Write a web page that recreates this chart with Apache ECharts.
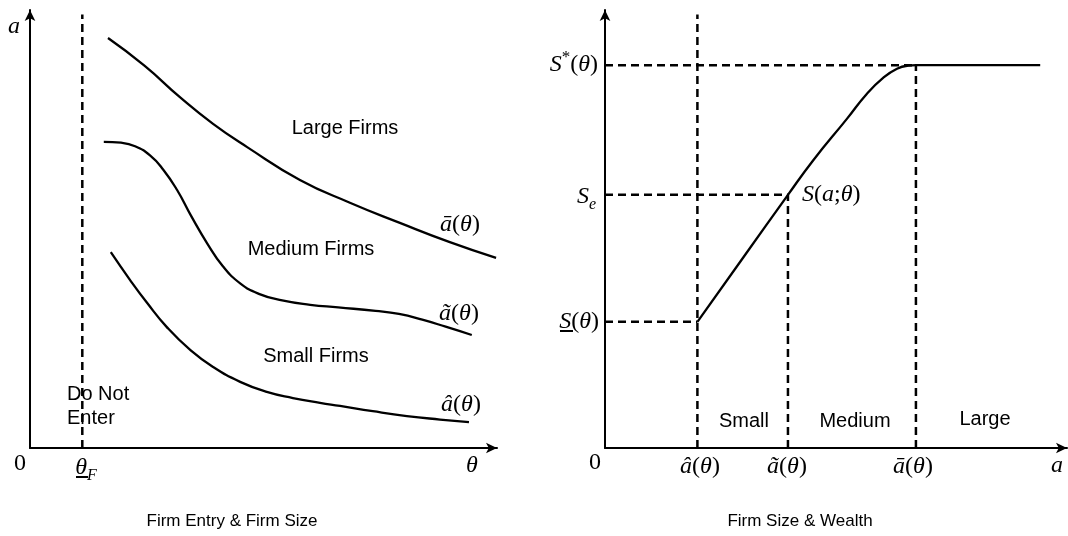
<!DOCTYPE html>
<html><head><meta charset="utf-8">
<script src="https://cdn.jsdelivr.net/npm/echarts@6/dist/echarts.min.js"></script>
<style>html,body{margin:0;padding:0;background:#fff}#c{width:1068px;height:536px}</style>
</head><body><div id="c"></div>
<script>
// ---- Left panel data (theta on x, a on y; 0..100 units) ----
const thetaF = 11.2;
const aBarCurve   = [[16.7,93.6],[24.5,87.3],[32.1,80.1],[39.2,74.0],[46.5,68.7],[57.8,61.2],[68.5,56.0],[79.2,51.4],[89.9,47.0],[99.8,43.4]];
const aTildeCurve = [[15.8,69.9],[19.5,69.7],[22.5,68.9],[25.7,66.8],[28.5,63.6],[31.5,58.9],[34.5,53.0],[37.9,46.8],[41.3,41.5],[45.0,37.6],[49.0,35.2],[54.0,33.7],[60.0,32.7],[66.0,32.1],[74.0,31.3],[79.0,30.6],[84.0,29.3],[89.0,27.7],[94.6,25.8]];
const aHatCurve   = [[17.3,44.7],[21.4,38.4],[25.1,33.1],[29.3,27.6],[34.3,22.4],[39.2,18.5],[45.0,15.1],[50.7,12.8],[56.3,11.4],[62.1,10.3],[66.4,9.6],[73.4,8.4],[80.7,7.3],[87.8,6.5],[94.0,5.9]];
// ---- Right panel data (a on x, S on y; 0..100 units) ----
const aHatR = 20.0, aTildeR = 39.6, aBarR = 67.3;
const sLow = 28.8, sE = 57.8, sStar = 87.4;
const sizeCurve = [[20.0,28.8],[30.0,43.6],[39.6,57.8],[45.0,65.6],[52.4,75.2],[56.7,80.9],[60.2,84.5],[63.2,86.6],[65.6,87.3],[67.3,87.4],[80.0,87.4],[94.2,87.4]];

const black = '#000';
function axisPair(gi){
  return {type:'value', min:0, max:100, gridIndex:gi,
    axisLine:{show:true, symbol:['none','arrow'], symbolSize:[8,11], lineStyle:{color:black, width:2}},
    axisTick:{show:false}, axisLabel:{show:false}, splitLine:{show:false}};
}
function solid(data, gi){
  return {type:'line', xAxisIndex:gi, yAxisIndex:gi, data:data, showSymbol:false, smooth:0.5,
    silent:true, clip:false, lineStyle:{color:black, width:2.3}};
}
function dashed(data, gi){
  return {type:'line', xAxisIndex:gi, yAxisIndex:gi, data:data, showSymbol:false,
    silent:true, clip:false, lineStyle:{color:black, width:2.5, type:[8,5]}};
}
const serif = 'Liberation Serif';
const sans = 'Liberation Sans';
const rich = {
  i:{fontFamily:serif, fontStyle:'italic', fontSize:24, lineHeight:32, fill:black, verticalAlign:'middle'},
  n:{fontFamily:serif, fontSize:24, lineHeight:32, fill:black, verticalAlign:'middle'},
  sub:{fontFamily:serif, fontStyle:'italic', fontSize:16, lineHeight:15, fill:black, verticalAlign:'bottom'},
  sup:{fontFamily:serif, fontSize:17, lineHeight:17, fill:black, verticalAlign:'top'}
};
function mtext(x, y, text, align){
  return {type:'text', x:x, y:y, silent:true,
    style:{text:text, rich:rich, align:align||'center', verticalAlign:'middle', textAlign:align||'center', textVerticalAlign:'middle', fill:black}};
}
function stext(x, y, text, size, align){
  return {type:'text', x:x, y:y, silent:true,
    style:{text:text, fontFamily:sans, fontSize:size, fill:black, align:align||'center', verticalAlign:'middle', textAlign:align||'center', textVerticalAlign:'middle', lineHeight:24}};
}
function hline(x1,x2,y){
  return {type:'line', silent:true, shape:{x1:x1,y1:y,x2:x2,y2:y}, style:{stroke:black, lineWidth:2}};
}

const chart = echarts.init(document.getElementById('c'), null, {renderer:'canvas'});
chart.setOption({
  animation:false,
  backgroundColor:'#fff',
  grid:[
    {left:30, top:10, width:467, height:438},
    {left:605, top:10, width:462, height:438}
  ],
  xAxis:[axisPair(0), axisPair(1)],
  yAxis:[axisPair(0), axisPair(1)],
  series:[
    dashed([[thetaF,0],[thetaF,99]],0),
    solid(aBarCurve,0),
    solid(aTildeCurve,0),
    solid(aHatCurve,0),
    dashed([[aHatR,0],[aHatR,99]],1),
    dashed([[0,sStar],[aBarR,sStar]],1),
    dashed([[0,sE],[aTildeR,sE]],1),
    dashed([[0,sLow],[aHatR,sLow]],1),
    dashed([[aTildeR,0],[aTildeR,sE]],1),
    dashed([[aBarR,0],[aBarR,sStar]],1),
    solid(sizeCurve,1)
  ],
  graphic:[
    // left panel
    mtext(14, 27, '{i|a}'),
    mtext(20, 464, '{n|0}'),
    mtext(86, 468, '{i|θ}{sub|F}'),
    hline(76, 88, 477),
    mtext(472, 466, '{i|θ}'),
    stext(345, 128, 'Large Firms', 20),
    stext(311, 249, 'Medium Firms', 20),
    stext(316, 356, 'Small Firms', 20),
    stext(67, 406, 'Do Not\nEnter', 20, 'left'),
    mtext(460, 225, '{i|ā}{n|(}{i|θ}{n|)}'),
    mtext(459, 314, '{i|ã}{n|(}{i|θ}{n|)}'),
    mtext(461, 405, '{i|â}{n|(}{i|θ}{n|)}'),
    stext(232, 521, 'Firm Entry & Firm Size', 17),
    // right panel
    mtext(598, 65, '{i|S}{sup|*}{n|(}{i|θ}{n|)}', 'right'),
    mtext(596, 197, '{i|S}{sub|e}', 'right'),
    mtext(599, 322, '{i|S}{n|(}{i|θ}{n|)}', 'right'),
    hline(560, 573, 331),
    mtext(802, 195, '{i|S}{n|(}{i|a}{n|;}{i|θ}{n|)}', 'left'),
    mtext(595, 463, '{n|0}'),
    mtext(700, 467, '{i|â}{n|(}{i|θ}{n|)}'),
    mtext(787, 467, '{i|ã}{n|(}{i|θ}{n|)}'),
    mtext(913, 467, '{i|ā}{n|(}{i|θ}{n|)}'),
    mtext(1057, 466, '{i|a}'),
    stext(744, 421, 'Small', 20),
    stext(855, 421, 'Medium', 20),
    stext(985, 419, 'Large', 20),
    stext(800, 521, 'Firm Size & Wealth', 17)
  ]
});
</script></body></html>
